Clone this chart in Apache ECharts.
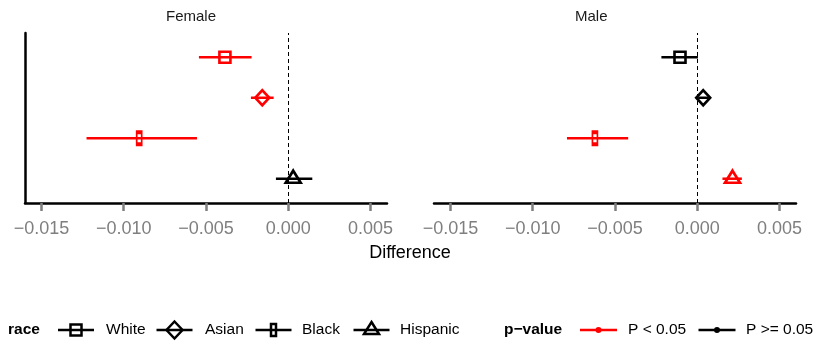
<!DOCTYPE html>
<html><head><meta charset="utf-8">
<script src="https://cdn.jsdelivr.net/npm/echarts@6/dist/echarts.min.js"></script>
<style>html,body{margin:0;padding:0;background:#fff}#c{width:813px;height:344px}</style>
</head><body><div id="c"></div>
<script>
const races = ['White', 'Asian', 'Black', 'Hispanic'];
const panels = ['Female', 'Male'];
const femaleEst = [-0.00385, -0.00158, -0.00906, 0.0003];
const femaleLo  = [-0.00543, -0.00227, -0.01226, -0.00075];
const femaleHi  = [-0.00223, -0.00089, -0.00555, 0.00146];
const femaleSig = [true, true, true, false];
const maleEst = [-0.00105, 0.00036, -0.00622, 0.00214];
const maleLo  = [-0.00218, 0.00005, -0.00792, 0.00153];
const maleHi  = [0.00004, 0.0007, -0.0042, 0.00271];
const maleSig = [false, false, true, true];
const xTicks = [-0.015, -0.010, -0.005, 0.000, 0.005];
const pLabels = ['P < 0.05', 'P >= 0.05'];

const RED = '#ff0000', BLK = '#000000';
const FONT = '"Liberation Sans", Arial, sans-serif';
const symbols = {
  White: {symbol: 'rect', size: [11, 11], offset: [0, 0]},
  Asian: {symbol: 'diamond', size: [14, 15], offset: [0, 0]},
  Black: {symbol: 'rect', size: [5, 12], offset: [0, 0]},
  Hispanic: {symbol: 'triangle', size: [15, 12], offset: [0, -2]}
};
const grids = [
  {left: 25, top: 33, width: 362, height: 170},
  {left: 434, top: 33, width: 362, height: 170}
];
const panelData = [
  {est: femaleEst, lo: femaleLo, hi: femaleHi, sig: femaleSig},
  {est: maleEst, lo: maleLo, hi: maleHi, sig: maleSig}
];
const fmt = v => {
  const s = Math.abs(v).toFixed(3);
  return (v < -1e-12 ? '\u2212' : '') + s;
};

const xAxes = [], yAxes = [], series = [];
panelData.forEach((pd, k) => {
  xAxes.push({
    type: 'value', gridIndex: k, min: -0.016, max: 0.006,
    splitLine: {show: false},
    axisLine: {show: true, onZero: false, lineStyle: {color: '#000', width: 2.5}},
    axisTick: {show: true, customValues: xTicks, length: 8, lineStyle: {color: '#7f7f7f', width: 2.5}},
    axisLabel: {customValues: xTicks, formatter: fmt, color: '#7f7f7f', fontSize: 18, fontFamily: FONT, margin: 17}
  });
  yAxes.push({
    type: 'value', gridIndex: k, min: 0.4, max: 4.6,
    splitLine: {show: false}, axisTick: {show: false}, axisLabel: {show: false},
    axisLine: {show: k === 0, onZero: false, lineStyle: {color: '#000', width: 2.5}}
  });
  const ciData = races.map((r, i) => [pd.lo[i], pd.hi[i], races.length - i, pd.sig[i] ? 1 : 0]);
  series.push({
    type: 'custom', xAxisIndex: k, yAxisIndex: k, silent: true,
    encode: {x: [0, 1], y: 2},
    data: ciData,
    renderItem: (params, api) => {
      const y = api.value(2);
      const p1 = api.coord([api.value(0), y]);
      const p2 = api.coord([api.value(1), y]);
      return {type: 'line', shape: {x1: p1[0], y1: p1[1], x2: p2[0], y2: p2[1]},
        style: {stroke: api.value(3) ? RED : BLK, lineWidth: 2.5}};
    },
    z: 2
  });
  series.push({
    type: 'scatter', xAxisIndex: k, yAxisIndex: k, silent: true,
    data: races.map((r, i) => ({
      value: [pd.est[i], races.length - i],
      symbol: symbols[r].symbol, symbolSize: symbols[r].size, symbolOffset: symbols[r].offset,
      itemStyle: {color: 'rgba(0,0,0,0)', borderColor: pd.sig[i] ? RED : BLK, borderWidth: 2.6, opacity: 1}
    })),
    markLine: {
      silent: true, symbol: 'none', label: {show: false},
      lineStyle: {color: '#000', type: [4, 3], width: 1},
      data: [{xAxis: 0}]
    },
    z: 3
  });
});

const graphic = [];
panels.forEach((p, k) => {
  graphic.push({type: 'text', left: grids[k].left + grids[k].width / 2 - 40, top: 9,
    style: {text: p, font: '15px ' + FONT, fill: '#1a1a1a', width: 80, align: 'center'}});
});
graphic.push({type: 'text', x: 410, y: 253,
  style: {text: 'Difference', font: '18px ' + FONT, fill: '#000', align: 'center', verticalAlign: 'middle'}});

const LY = 330;
const LF = '15.5px ' + FONT;
graphic.push({type: 'text', x: 8, y: LY, style: {text: 'race', font: 'bold ' + LF, fill: '#000', verticalAlign: 'middle'}});
const keyCx = [76, 174.5, 273.5, 371.5];
const labX = [106, 205, 302, 400];
races.forEach((r, i) => {
  const cx = keyCx[i];
  graphic.push({type: 'line', shape: {x1: cx - 18, y1: LY, x2: cx + 18, y2: LY}, style: {stroke: '#000', lineWidth: 2.5}});
  const s = symbols[r];
  const w = s.size[0], h = s.size[1];
  if (s.symbol === 'rect') {
    graphic.push({type: 'rect', shape: {x: cx - w / 2, y: LY - h / 2, width: w, height: h}, style: {fill: 'none', stroke: '#000', lineWidth: 2.5}});
  } else if (s.symbol === 'diamond') {
    graphic.push({type: 'polygon', shape: {points: [[cx, LY - h / 2 - 1], [cx + w / 2 + 1, LY], [cx, LY + h / 2 + 1], [cx - w / 2 - 1, LY]]}, style: {fill: 'none', stroke: '#000', lineWidth: 2.5}});
  } else {
    const cy = LY + s.offset[1];
    graphic.push({type: 'polygon', shape: {points: [[cx, cy - h / 2], [cx + w / 2, cy + h / 2], [cx - w / 2, cy + h / 2]]}, style: {fill: 'none', stroke: '#000', lineWidth: 2.5}});
  }
  graphic.push({type: 'text', x: labX[i], y: LY, style: {text: r, font: LF, fill: '#000', verticalAlign: 'middle'}});
});
graphic.push({type: 'text', x: 504, y: LY, style: {text: 'p\u2212value', font: 'bold ' + LF, fill: '#000', verticalAlign: 'middle'}});
const pCx = [598.5, 717], pLabX = [628, 746], pCol = [RED, BLK];
pLabels.forEach((t, i) => {
  const cx = pCx[i];
  graphic.push({type: 'line', shape: {x1: cx - 18.5, y1: LY, x2: cx + 18.5, y2: LY}, style: {stroke: pCol[i], lineWidth: 2.5}});
  graphic.push({type: 'circle', shape: {cx: cx, cy: LY, r: 3}, style: {fill: pCol[i]}});
  graphic.push({type: 'text', x: pLabX[i], y: LY, style: {text: t, font: LF, fill: '#000', verticalAlign: 'middle'}});
});

const chart = echarts.init(document.getElementById('c'), null, {renderer: 'canvas'});
chart.setOption({
  animation: false,
  backgroundColor: '#fff',
  grid: grids,
  xAxis: xAxes,
  yAxis: yAxes,
  series: series,
  graphic: graphic
});
</script></body></html>
